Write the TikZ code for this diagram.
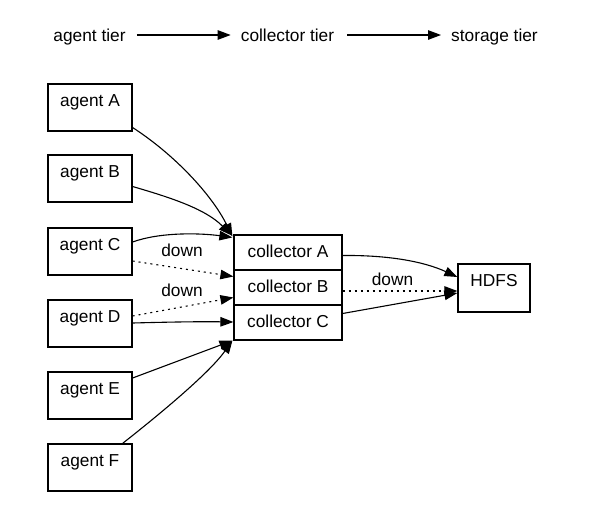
\documentclass[tikz,border=0pt]{standalone}
\usepackage{fontspec}
\setmainfont{Liberation Sans}
\usetikzlibrary{arrows.meta,calc}
\begin{document}
\begin{tikzpicture}[x=1pt,y=-1pt,
  every node/.style={font=\fontsize{17.3}{20}\selectfont},
  agentbox/.style={draw,line width=1.2pt,minimum width=84pt,minimum height=47pt,inner sep=0pt,text height=12.5pt,text depth=15.5pt},
  collbox/.style={draw,line width=1.2pt,minimum width=108pt,minimum height=35pt,inner sep=0pt,text height=12.5pt,text depth=3.5pt},
  hdfsbox/.style={draw,line width=1.2pt,minimum width=72pt,minimum height=48pt,inner sep=0pt,text height=12.5pt,text depth=15.5pt},
  tierlabel/.style={inner sep=0pt,text height=12.5pt,text depth=3.5pt},
  downlabel/.style={inner sep=0pt,text height=12.5pt,text depth=3.5pt},
  conn/.style={line width=1.1pt,-{Triangle[length=13pt,width=9.5pt]}},
  dconn/.style={conn,dash pattern=on 2pt off 4pt},
]
\useasboundingbox (0,0) rectangle (597,515);
% tier labels
\node[tierlabel] (t1) at (89.5,36.5) {agent tier};
\node[tierlabel] (t2) at (287.5,36.5) {collector tier};
\node[tierlabel] (t3) at (494.5,36.5) {storage tier};
\draw[conn] ($(t1.east)+(11,-1.5)$) -- ($(t2.west)+(-10,-1.5)$);
\draw[conn] ($(t2.east)+(13,-1.5)$) -- ($(t3.west)+(-10,-1.5)$);
% agents
\node[agentbox] (aA) at (90,107.5) {agent A};
\node[agentbox] (aB) at (90,178.5) {agent B};
\node[agentbox] (aC) at (90,251.5) {agent C};
\node[agentbox] (aD) at (90,323.5) {agent D};
\node[agentbox] (aE) at (90,395.5) {agent E};
\node[agentbox] (aF) at (90,467.5) {agent F};
% collectors
\node[collbox] (cA) at (288,252.5) {collector A};
\node[collbox] (cB) at (288,287.5) {collector B};
\node[collbox] (cC) at (288,322.5) {collector C};
% HDFS
\node[hdfsbox] (h) at (494,288) {HDFS};
% agent -> collector edges
\draw[conn] ($(aA.east)+(0,20)$) .. controls (175,155) and (212,195) .. ($(cA.north west)+(-1,2)$);
\draw[conn] ($(aB.east)+(0,8)$) .. controls (165,196) and (205,208) .. ($(cA.north west)+(-2,1)$);
\draw[conn] ($(aC.east)+(0,-9.5)$) .. controls (160,232) and (200,233) .. ($(cA.north west)+(-1,3)$);
\draw[dconn] ($(aC.east)+(0,9.5)$) -- ($(cB.west)+(0,-11)$);
\node[downlabel] (d1) at (182,251.5) {down};
\draw[dconn] ($(aD.east)+(0,-7.5)$) -- ($(cB.west)+(0,10)$);
\node[downlabel] (d2) at (182,291.5) {down};
\draw[conn] ($(aD.east)+(0,-0.5)$) .. controls (170,322) and (200,321.5) .. ($(cC.west)+(0,-0.5)$);
\draw[conn] ($(aE.east)+(0,-17.5)$) -- ($(cC.south west)+(-1,0)$);
\draw[conn] ($(aF.north east)+(-10,0)$) .. controls (165,410) and (210,372) .. ($(cC.south west)+(-1,0)$);
% collector -> HDFS
\draw[conn] ($(cA.east)+(0,3)$) .. controls (390,255) and (425,262) .. ($(h.west)+(0,-11)$);
\draw[dconn] ($(cB.east)+(0,3.5)$) -- ($(h.west)+(0,3)$);
\node[downlabel] (d3) at (392.5,280.5) {down};
\draw[conn] ($(cC.east)+(0,-9)$) -- ($(h.west)+(0,5)$);
\end{tikzpicture}
\end{document}
